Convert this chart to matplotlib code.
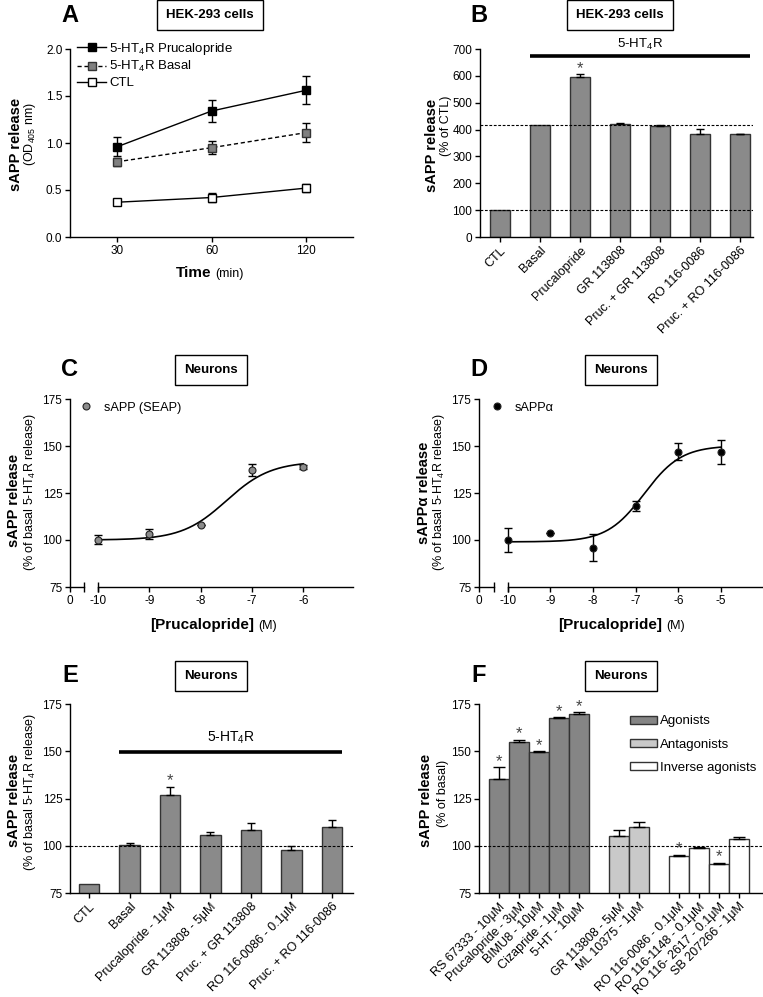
import matplotlib
matplotlib.use("Agg")
import matplotlib.pyplot as plt
import numpy as np
from matplotlib.patches import Patch

plt.rcParams['font.family'] = ['Liberation Sans', 'DejaVu Sans']
plt.rcParams['mathtext.fontset'] = 'custom'
plt.rcParams['mathtext.rm'] = 'Liberation Sans'
plt.rcParams['mathtext.it'] = 'Liberation Sans:italic'
plt.rcParams['mathtext.bf'] = 'Liberation Sans:bold'
plt.rcParams['axes.linewidth'] = 1.0

# ---- panel A : time course, HEK-293 cells
time_labels = ['30', '60', '120']
pruc_mean = [0.96, 1.34, 1.56]
pruc_err = [0.10, 0.12, 0.15]
basal_mean = [0.80, 0.95, 1.11]
basal_err = [0.04, 0.07, 0.10]
ctl_mean = [0.37, 0.42, 0.52]
ctl_err = [0.03, 0.05, 0.04]

# ---- panel B : HEK-293 cells, % of CTL
b_labels = ['CTL', 'Basal', 'Prucalopride', 'GR 113808', 'Pruc. + GR 113808',
            'RO 116-0086', 'Pruc. + RO 116-0086']
b_mean = [100, 418, 595, 422, 415, 383, 383]
b_err = [0, 0, 11, 2, 1, 18, 1]
b_star = [2]

# ---- panel C : sAPP (SEAP) dose response
c_logx = [-10, -9, -8, -7, -6]
c_mean = [100.2, 103.2, 108.0, 137.0, 139.0]
c_err = [2.3, 2.5, 0, 3.2, 1.0]
c_fit = dict(bottom=100.0, top=141.8, logec50=-7.5, hill=1.0)

# ---- panel D : sAPPalpha dose response
d_logx = [-10, -9, -8, -7, -6, -5]
d_mean = [100.0, 103.8, 96.0, 118.0, 147.0, 147.0]
d_err = [6.2, 0, 7.4, 2.8, 4.6, 6.4]
d_fit = dict(bottom=99.0, top=150.2, logec50=-6.8, hill=1.0)

# ---- panel E : neurons, % of basal 5-HT4R release
e_labels = ['CTL', 'Basal', 'Prucalopride - 1\u03bcM', 'GR 113808 - 5\u03bcM',
            'Pruc. + GR 113808', 'RO 116-0086 - 0.1\u03bcM', 'Pruc. + RO 116-0086']
e_mean = [79.6, 100.2, 126.8, 105.5, 108.2, 97.8, 109.8]
e_err = [0, 1.0, 4.4, 1.6, 3.7, 2.1, 4.0]
e_star = [2]

# ---- panel F : neurons, ligands
f_labels = ['RS 67333 - 10\u03bcM', 'Prucalopride - 3\u03bcM', 'BIMU8 - 10\u03bcM',
            'Cizapride - 1\u03bcM', '5-HT - 10\u03bcM',
            'GR 113808 - 5\u03bcM', 'ML 10375 - 1\u03bcM',
            'RO 116-0086 - 0.1\u03bcM', 'RO 116-1148 - 0.1\u03bcM',
            'RO 116- 2617 - 0.1\u03bcM', 'SB 207266 - 1\u03bcM']
f_group = ['Agonists'] * 5 + ['Antagonists'] * 2 + ['Inverse agonists'] * 4
f_mean = [135.3, 154.7, 149.4, 167.4, 169.5, 105.2, 110.1, 94.4, 99.0, 90.3, 103.4]
f_err = [6.2, 1.3, 0.6, 0.5, 1.1, 3.0, 2.3, 0.7, 0.3, 0.5, 1.0]
f_star = [0, 1, 2, 3, 4, 7, 9]
group_names = ['Agonists', 'Antagonists', 'Inverse agonists']
group_colors = {'Agonists': '#858585', 'Antagonists': '#c9c9c9', 'Inverse agonists': 'white'}

W, H = 763, 997
fig = plt.figure(figsize=(W / 100, H / 100), dpi=100)

BAR = '#8a8a8a'
EDGE = '#333333'
DASH = (0, (2.5, 1.5))


def add_ax(x0, y0, x1, y1):
    ax = fig.add_axes([x0 / W, 1 - y1 / H, (x1 - x0) / W, (y1 - y0) / H])
    ax.spines['top'].set_visible(False)
    ax.spines['right'].set_visible(False)
    ax.tick_params(direction='out', length=3.5, width=1, labelsize=8.5, pad=2)
    return ax


def ptext(x, y, s, **kw):
    return fig.text(x / W, 1 - y / H, s, **kw)


def header(xl, xb, y, letter, box):
    ptext(xl, y, letter, fontsize=17, fontweight='bold', ha='center', va='center')
    ptext(xb, y, box, fontsize=9.5, fontweight='bold', ha='center', va='center',
          bbox=dict(boxstyle='square,pad=0.7', fc='white', ec='black', lw=1))


def ylab(xb, yb, bold, xn, yn, normal):
    # x values are the baselines of the rotated texts
    ptext(xb, yb, bold, fontsize=10.5, fontweight='bold', rotation=90, rotation_mode='anchor',
          ha='center', va='baseline')
    ptext(xn, yn, normal, fontsize=9, rotation=90, rotation_mode='anchor',
          ha='center', va='baseline')


def stars(ax, idx, x, mean, err):
    for i in idx:
        ax.annotate('*', (x[i], mean[i] + err[i]), xytext=(0, -1), textcoords='offset points',
                    ha='center', va='bottom', fontsize=12, color='#444444')


def up_err(ax, x, mean, err, cap=3):
    x = np.asarray(x, float)
    mean = np.asarray(mean, float)
    err = np.asarray(err, float)
    m = err > 0
    ax.errorbar(x[m], mean[m], yerr=[np.zeros(m.sum()), err[m]], fmt='none',
                ecolor='black', elinewidth=1, capsize=cap, capthick=1)


def sigmoid(p, xs):
    return p['bottom'] + (p['top'] - p['bottom']) / (1 + 10 ** ((p['logec50'] - xs) * p['hill']))


# ================= A
ax = add_ax(70, 49, 353, 237)
xa = np.arange(len(time_labels))
h1 = ax.errorbar(xa, pruc_mean, yerr=pruc_err, fmt='-s', color='black', mfc='black', mec='black',
                 ms=5.5, lw=1, elinewidth=1, capsize=3)
h2 = ax.errorbar(xa, basal_mean, yerr=basal_err, fmt='s', ls=(0, (3, 2)), color='black',
                 mfc='#808080', mec='#333333', ms=5.5, lw=1, elinewidth=1, capsize=3)
h3 = ax.errorbar(xa, ctl_mean, yerr=ctl_err, fmt='-s', color='black', mfc='white', mec='black',
                 ms=5.5, lw=1, elinewidth=1, capsize=3)
ax.legend([h1[0], h2[0], h3[0]], ['5-HT$_4$R Prucalopride', '5-HT$_4$R Basal', 'CTL'],
          loc='upper left', bbox_to_anchor=(0.025, 1.045), frameon=False, fontsize=9.5,
          handlelength=2.2, handletextpad=0.25, labelspacing=0.2, borderpad=0, borderaxespad=0)
ax.set_xlim(-0.5, 2.5)
ax.set_ylim(0, 2.0)
ax.set_xticks(xa, time_labels)
ax.set_yticks([0, 0.5, 1.0, 1.5, 2.0], ['0.0', '0.5', '1.0', '1.5', '2.0'])
header(70, 210, 15, 'A', 'HEK-293 cells')
ylab(20, 144, 'sAPP release', 33, 134, '(OD$_{405}$ nm)')
ptext(211, 277, 'Time', fontsize=11, fontweight='bold', ha='right', va='baseline')
ptext(215, 277, '(min)', fontsize=9, ha='left', va='baseline')

# ================= B
ax = add_ax(480, 49, 753, 237)
xb = np.arange(len(b_labels))
ax.bar(xb, b_mean, width=0.5, color=BAR, edgecolor=EDGE, lw=1, zorder=2)
up_err(ax, xb, b_mean, b_err)
stars(ax, b_star, xb, b_mean, b_err)
ax.axhline(b_mean[1], ls=DASH, color='black', lw=0.8, zorder=3)
ax.axhline(100, ls=DASH, color='black', lw=0.8, zorder=3)
ax.plot([0.75, 6.25], [674, 674], color='black', lw=2.6, solid_capstyle='butt', clip_on=False)
ax.text(3.5, 688, '5-HT$_4$R', ha='center', va='bottom', fontsize=9.5)
ax.set_xlim(-0.5, 6.33)
ax.set_ylim(0, 700)
ax.set_yticks(range(0, 701, 100))
ax.set_xticks(xb, b_labels, rotation=45, ha='right', rotation_mode='anchor', fontsize=9)
header(479, 620, 15, 'B', 'HEK-293 cells')
ylab(436, 145, 'sAPP release', 449, 126, '(% of CTL)')


# ================= C and D (broken x axis)
def dose_panel(box, logx, mean, err, fit, xmin, xmax, brk, mfc, label, legx):
    ax = add_ax(*box)
    xs = np.linspace(logx[0], logx[-1], 300)
    ax.plot(xs, sigmoid(fit, xs), color='black', lw=1.2, zorder=2)
    up = np.asarray(err, float)
    ax.errorbar(logx, mean, yerr=up, fmt='none', ecolor='black', elinewidth=1, capsize=3, zorder=3)
    pts, = ax.plot(logx, mean, 'o', ms=5, mfc=mfc, mec='#222222', mew=0.8, zorder=4)
    ax.legend([pts], [label], loc='upper left', bbox_to_anchor=(legx, 0.985), frameon=False,
              fontsize=9.2, handlelength=1.0, handletextpad=0.9, borderpad=0, borderaxespad=0)
    ax.set_xlim(xmin, xmax)
    ax.set_ylim(75, 175)
    ax.set_yticks([75, 100, 125, 150, 175])
    ax.spines['bottom'].set_bounds(logx[0], xmax)
    ax.plot([xmin, brk], [75, 75], color='black', lw=1, clip_on=False)
    ax.plot([brk, logx[0]], [75, 75], ls='none', marker='|', ms=7, mew=1, color='black',
            clip_on=False)
    ax.set_xticks([xmin] + list(logx), ['0'] + [str(v) for v in logx])
    return ax


dose_panel((70, 399, 353, 587), c_logx, c_mean, c_err, c_fit, -10.55, -5.03, -10.28,
           '#8c8c8c', 'sAPP (SEAP)', 0.035)
header(70, 211, 370, 'C', 'Neurons')
ylab(18, 500, 'sAPP release', 33, 492, '(% of basal 5-HT$_4$R release)')
ptext(254, 629, '[Prucalopride]', fontsize=11, fontweight='bold', ha='right', va='baseline')
ptext(258, 629, '(M)', fontsize=9, ha='left', va='baseline')

dose_panel((479, 399, 762, 587), d_logx, d_mean, d_err, d_fit, -10.67, -4.04, -10.32,
           'black', 'sAPP\u03b1', 0.04)
header(479, 621, 370, 'D', 'Neurons')
ylab(428, 493, 'sAPP\u03b1 release', 442, 492, '(% of basal 5-HT$_4$R release)')
ptext(662, 629, '[Prucalopride]', fontsize=11, fontweight='bold', ha='right', va='baseline')
ptext(666, 629, '(M)', fontsize=9, ha='left', va='baseline')

# ================= E
ax = add_ax(70, 704, 353, 893)
xe = np.arange(len(e_labels))
ax.bar(xe, e_mean, width=0.5, color=BAR, edgecolor=EDGE, lw=1, zorder=2)
up_err(ax, xe, e_mean, e_err)
stars(ax, e_star, xe, e_mean, e_err)
ax.axhline(100, ls=DASH, color='black', lw=0.8, zorder=3)
ax.plot([0.75, 6.25], [149.5, 149.5], color='black', lw=2.6, solid_capstyle='butt')
ax.text(3.5, 153, '5-HT$_4$R', ha='center', va='bottom', fontsize=10)
ax.set_xlim(-0.47, 6.52)
ax.set_ylim(75, 175)
ax.set_yticks([75, 100, 125, 150, 175])
ax.set_xticks(xe, e_labels, rotation=45, ha='right', rotation_mode='anchor', fontsize=9)
header(70, 211, 676, 'E', 'Neurons')
ylab(18, 800, 'sAPP release', 33, 792, '(% of basal 5-HT$_4$R release)')

# ================= F
ax = add_ax(479, 704, 762, 893)
xf = []
pos = 0
for i, g in enumerate(f_group):
    if i > 0 and g != f_group[i - 1]:
        pos += 1
    xf.append(pos)
    pos += 1
ax.bar(xf, f_mean, width=1.0, color=[group_colors[g] for g in f_group], edgecolor=EDGE,
       lw=1, zorder=2)
up_err(ax, xf, f_mean, f_err, cap=4)
stars(ax, f_star, xf, f_mean, f_err)
ax.axhline(100, ls=DASH, color='black', lw=0.8, zorder=3)
ax.legend([Patch(fc=group_colors[g], ec=EDGE, lw=1) for g in group_names], group_names,
          loc='upper left', bbox_to_anchor=((630 - 479) / 283, 0.94), frameon=False,
          fontsize=9.5, handlelength=2.05, handleheight=0.55, handletextpad=0.25,
          labelspacing=0.85, borderpad=0, borderaxespad=0)
ax.set_xlim(-1.0, 13.15)
ax.set_ylim(75, 175)
ax.set_yticks([75, 100, 125, 150, 175])
ax.set_xticks(xf, f_labels, rotation=45, ha='right', rotation_mode='anchor', fontsize=9)
header(479, 621, 676, 'F', 'Neurons')
ylab(430, 800, 'sAPP release', 446, 793, '(% of basal)')

fig.savefig('out.png', dpi=100)
